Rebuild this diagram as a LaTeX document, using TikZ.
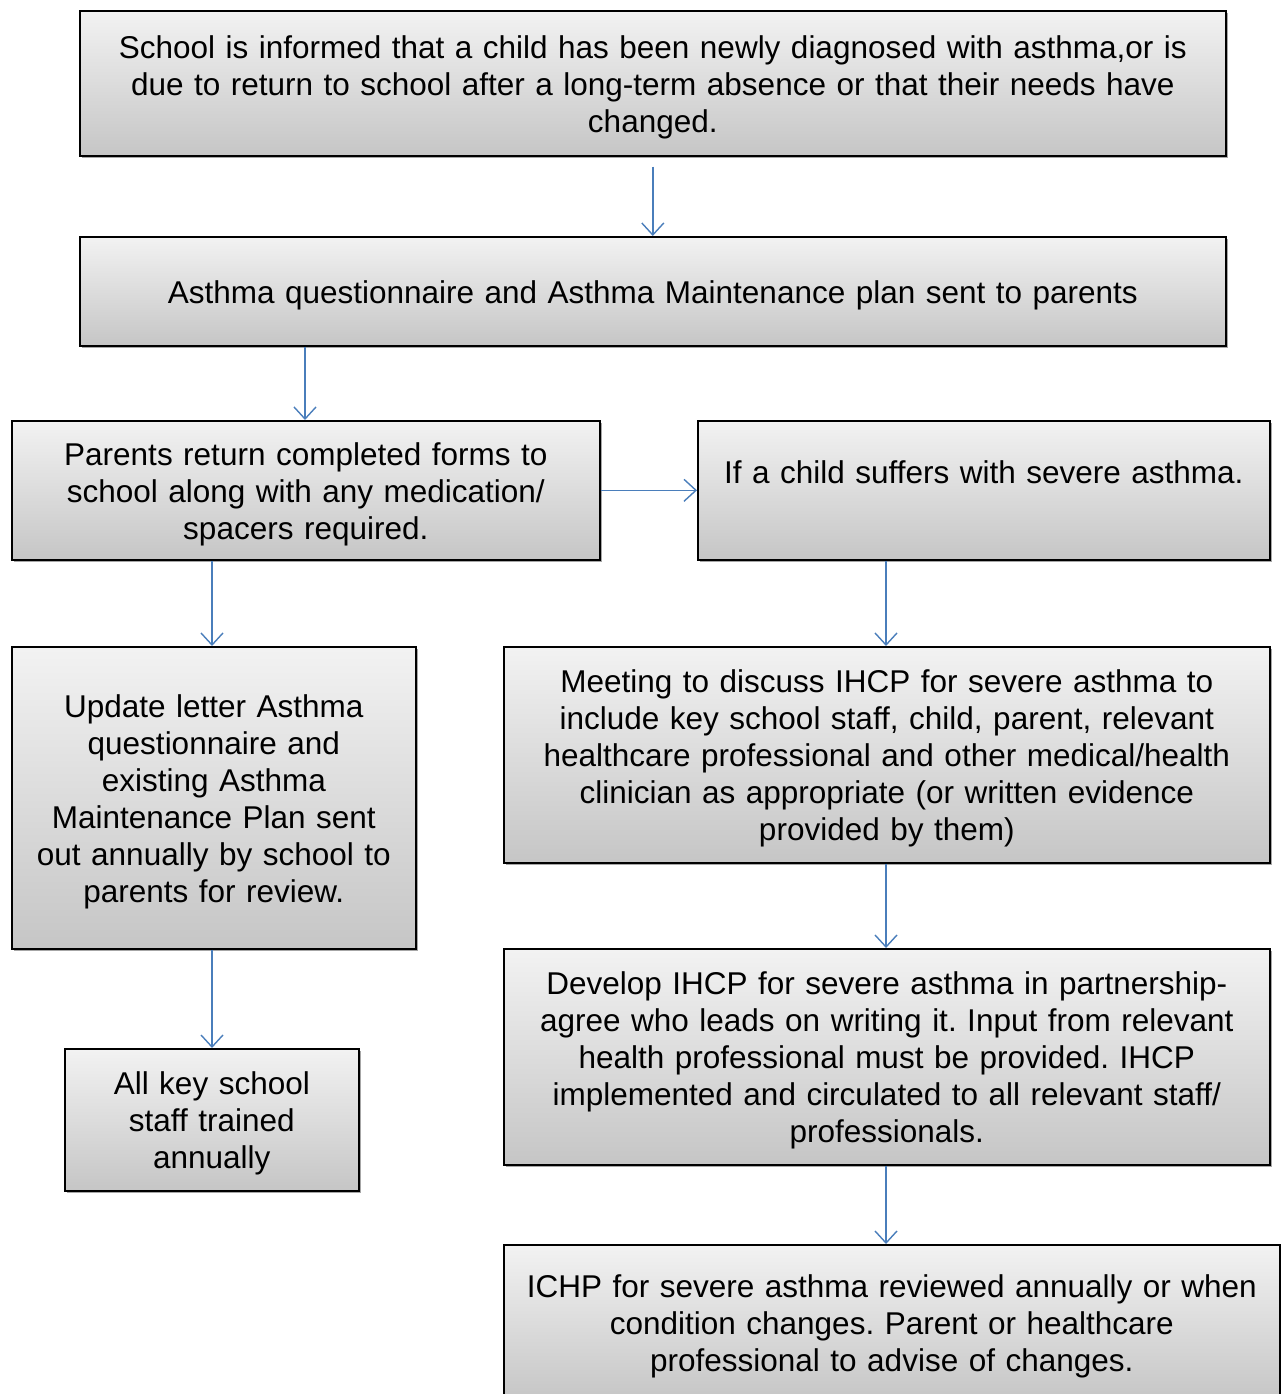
\documentclass[tikz,border=0pt]{standalone}
\usepackage{fontspec}
\setmainfont{Liberation Sans}
\usetikzlibrary{arrows.meta,shadows}
\definecolor{arrowblue}{HTML}{4A7EBB}
\frenchspacing
\newcommand{\topgap}{\rule{0pt}{30.5pt}}
\begin{document}
\begin{tikzpicture}[x=1pt,y=-1pt,
  box/.style={draw=black, line width=1.6pt, rectangle, inner sep=0pt,
    top color=gray!10, bottom color=gray!45,
    drop shadow={shadow xshift=2.5pt, shadow yshift=-2.5pt, fill=black, opacity=0.35},
    align=center, font=\fontsize{31.5}{37}\selectfont, anchor=north west},
  conn/.style={draw=arrowblue, line width=1.4pt, -{Straight Barb[length=12pt,width=22pt,line width=1.4pt]}}
]
\useasboundingbox (0,0) rectangle (1280,1394);
\node[box, minimum width=1146pt, minimum height=145pt, text width=1130pt] (b1) at (79,10)
  {\topgap School is informed that a child has been newly diagnosed with asthma,or is\\due to return to school after a long-term absence or that their needs have\\changed.};
\node[box, minimum width=1146pt, minimum height=109pt, text width=1130pt] (b2) at (79,236)
  {\topgap Asthma questionnaire and Asthma Maintenance plan sent to parents};
\node[box, minimum width=588pt, minimum height=139pt, text width=575pt] (b3) at (11,420)
  {\topgap Parents return completed forms to\\school along with any medication/\\spacers required.};
\node[box, minimum width=572pt, minimum height=139pt, text width=565pt] (b4) at (697,420)
  {If a child suffers with severe asthma.\\\mbox{}};
\node[box, minimum width=404pt, minimum height=302pt, text width=400pt] (b5) at (11,646)
  {\topgap Update letter Asthma\\questionnaire and\\existing Asthma\\Maintenance Plan sent\\out annually by school to\\parents for review.};
\node[box, minimum width=766pt, minimum height=216pt, text width=755pt] (b6) at (503,646)
  {\topgap Meeting to discuss IHCP for severe asthma to\\include key school staff, child, parent, relevant\\healthcare professional and other medical/health\\clinician as appropriate (or written evidence\\provided by them)};
\node[box, minimum width=294pt, minimum height=142pt, text width=290pt] (b7) at (64,1048)
  {\topgap All key school\\staff trained\\annually};
\node[box, minimum width=766pt, minimum height=216pt, text width=755pt] (b8) at (503,948)
  {\topgap Develop IHCP for severe asthma in partnership-\\agree who leads on writing it. Input from relevant\\health professional must be provided. IHCP\\implemented and circulated to all relevant staff/\\professionals.};
\node[box, minimum width=776pt, minimum height=156pt, text width=765pt] (b9) at (503,1244)
  {\topgap ICHP for severe asthma reviewed annually or when\\condition changes. Parent or healthcare\\professional to advise of changes.};
% connectors
\coordinate (a1s) at ([yshift=-10pt]b1.south);
\draw[conn] (a1s) -- (b2.north);
\draw[conn] (b2.south -| 305,0) -- (b3.north -| 305,0);
\draw[conn] (b3.east) -- (b4.west);
\draw[conn] (b3.south -| 212,0) -- (b5.north -| 212,0);
\draw[conn] (b4.south -| 886,0) -- (b6.north -| 886,0);
\draw[conn] (b5.south -| 212,0) -- (b7.north -| 212,0);
\draw[conn] (b6.south -| 886,0) -- (b8.north -| 886,0);
\draw[conn] (b8.south -| 886,0) -- (b9.north -| 886,0);
\end{tikzpicture}
\end{document}
